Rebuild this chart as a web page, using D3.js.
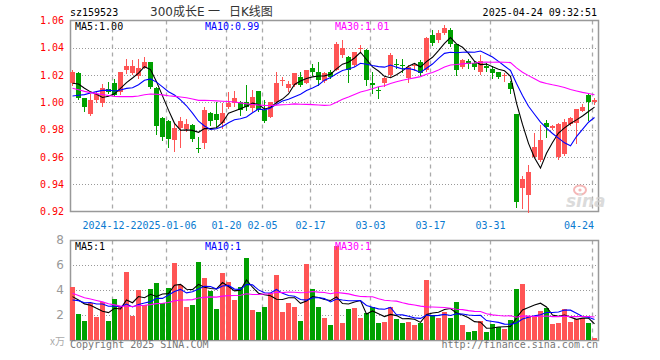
<!DOCTYPE html>
<html lang="zh">
<head>
<meta charset="utf-8">
<title>sz159523 300成长E 日K线图</title>
<style>
  body { margin: 0; background: #fff; }
  svg { display: block; }
  .mono { font-family: "DejaVu Sans Mono", "Liberation Mono", monospace; font-size: 10px; }
</style>
</head>
<body>
<div id="chart"></div>
<script src="https://d3js.org/d3.v7.min.js"></script>
<script>
// trading days on the chart
const dates = [
  "2024-12-12","2024-12-13","2024-12-16","2024-12-17","2024-12-18","2024-12-19","2024-12-20",
  "2024-12-23","2024-12-24","2024-12-25","2024-12-26","2024-12-27","2024-12-30","2024-12-31","2025-01-02","2025-01-03",
  "2025-01-06","2025-01-07","2025-01-08","2025-01-09","2025-01-10","2025-01-13","2025-01-14","2025-01-15","2025-01-16","2025-01-17",
  "2025-01-20","2025-01-21","2025-01-22","2025-01-23","2025-01-24","2025-01-27",
  "2025-02-05","2025-02-06","2025-02-07","2025-02-10","2025-02-11","2025-02-12","2025-02-13","2025-02-14",
  "2025-02-17","2025-02-18","2025-02-19","2025-02-20","2025-02-21","2025-02-24","2025-02-25","2025-02-26","2025-02-27","2025-02-28",
  "2025-03-03","2025-03-04","2025-03-05","2025-03-06","2025-03-07","2025-03-10","2025-03-11","2025-03-12","2025-03-13","2025-03-14",
  "2025-03-17","2025-03-18","2025-03-19","2025-03-20","2025-03-21","2025-03-24","2025-03-25","2025-03-26","2025-03-27","2025-03-28",
  "2025-03-31","2025-04-01","2025-04-02","2025-04-03","2025-04-07","2025-04-08","2025-04-09","2025-04-10","2025-04-11",
  "2025-04-14","2025-04-15","2025-04-16","2025-04-17","2025-04-18","2025-04-21","2025-04-22","2025-04-23","2025-04-24"
];

const open = [
  1.0140, 1.0217, 1.0030, 0.9914, 1.0017, 0.9997, 1.0096,
  1.0144, 1.0078, 1.0237, 1.0213, 1.0193, 1.0250, 1.0294, 1.0103, 0.9883,
  0.9863, 0.9724, 0.9810, 0.9802, 0.9834, 0.9665, 0.9704, 0.9920, 0.9914, 0.9846,
  0.9964, 0.9997, 1.0005, 1.0002, 0.9956, 1.0083,
  0.9944, 0.9895, 1.0002, 1.0162, 1.0103, 1.0127, 1.0188, 1.0144,
  1.0254, 1.0225, 1.0160, 1.0225, 1.0240, 1.0350, 1.0335, 1.0274, 1.0394, 1.0384,
  1.0140, 1.0092, 1.0140, 1.0200, 1.0278, 1.0276, 1.0176, 1.0272, 1.0298, 1.0237,
  1.0493, 1.0457, 1.0506, 1.0530, 1.0428, 1.0259, 1.0304, 1.0286, 1.0225, 1.0270,
  1.0245, 1.0222, 1.0198, 1.0142, 0.9915, 0.9370, 0.9321, 0.9602, 0.9577,
  0.9851, 0.9809, 0.9598, 0.9621, 0.9841, 0.9850, 0.9939, 1.0054, 1.0002
];
const high = [
  1.0237, 1.0220, 1.0030, 1.0060, 1.0078, 1.0134, 1.0147,
  1.0171, 1.0222, 1.0315, 1.0310, 1.0318, 1.0335, 1.0294, 1.0115, 0.9895,
  0.9870, 0.9846, 0.9895, 0.9875, 0.9840, 0.9748, 0.9964, 0.9930, 1.0000, 0.9993,
  1.0078, 1.0083, 1.0010, 1.0130, 1.0090, 1.0083,
  1.0017, 1.0005, 1.0222, 1.0188, 1.0155, 1.0213, 1.0225, 1.0237,
  1.0280, 1.0295, 1.0225, 1.0237, 1.0440, 1.0460, 1.0340, 1.0372, 1.0420, 1.0390,
  1.0220, 1.0115, 1.0188, 1.0360, 1.0320, 1.0320, 1.0275, 1.0285, 1.0310, 1.0480,
  1.0530, 1.0530, 1.0567, 1.0545, 1.0430, 1.0320, 1.0320, 1.0300, 1.0350, 1.0285,
  1.0265, 1.0225, 1.0215, 1.0160, 0.9915, 0.9460, 0.9541, 0.9773, 0.9834,
  0.9870, 0.9833, 0.9846, 0.9880, 0.9890, 0.9950, 0.9985, 1.0066, 1.0030
];
const low = [
  1.0130, 1.0022, 0.9939, 0.9907, 1.0005, 0.9973, 1.0066,
  1.0054, 1.0061, 1.0213, 1.0205, 1.0180, 1.0250, 1.0103, 0.9766, 0.9724,
  0.9670, 0.9643, 0.9675, 0.9790, 0.9720, 0.9638, 0.9663, 0.9834, 0.9817, 0.9814,
  0.9960, 0.9973, 0.9905, 0.9944, 0.9939, 0.9939,
  0.9853, 0.9890, 0.9985, 1.0127, 1.0080, 1.0117, 1.0120, 1.0140,
  1.0200, 1.0127, 1.0152, 1.0176, 1.0235, 1.0330, 1.0150, 1.0270, 1.0380, 1.0127,
  1.0066, 1.0030, 1.0120, 1.0190, 1.0250, 1.0225, 1.0150, 1.0240, 1.0200, 1.0230,
  1.0420, 1.0445, 1.0500, 1.0415, 1.0200, 1.0250, 1.0255, 1.0245, 1.0210, 1.0230,
  1.0180, 1.0180, 1.0160, 1.0071, 0.9235, 0.9223, 0.9198, 0.9602, 0.9572,
  0.9748, 0.9802, 0.9585, 0.9612, 0.9835, 0.9700, 0.9935, 0.9870, 0.9990
];
const close = [
  1.0225, 1.0030, 0.9968, 1.0017, 1.0059, 1.0103, 1.0078,
  1.0054, 1.0222, 1.0269, 1.0269, 1.0254, 1.0294, 1.0115, 0.9827, 0.9748,
  0.9731, 0.9810, 0.9863, 0.9839, 0.9731, 0.9660, 0.9944, 0.9863, 0.9871, 0.9924,
  0.9997, 1.0029, 0.9944, 0.9966, 1.0037, 0.9944,
  0.9865, 1.0002, 1.0144, 1.0166, 1.0132, 1.0213, 1.0127, 1.0237,
  1.0225, 1.0164, 1.0218, 1.0188, 1.0430, 1.0400, 1.0237, 1.0372, 1.0398, 1.0164,
  1.0127, 1.0088, 1.0176, 1.0347, 1.0272, 1.0270, 1.0262, 1.0276, 1.0213, 1.0470,
  1.0432, 1.0506, 1.0542, 1.0425, 1.0237, 1.0308, 1.0280, 1.0257, 1.0302, 1.0255,
  1.0215, 1.0186, 1.0200, 1.0100, 0.9272, 0.9435, 0.9490, 0.9670, 0.9724,
  0.9817, 0.9826, 0.9840, 0.9857, 0.9885, 0.9950, 0.9968, 1.0005, 1.0017
];
// volume, in units of 10k
const volume = [
  4.24, 2.08, 1.52, 2.99, 1.84, 3.07, 1.52,
  3.28, 2.72, 5.44, 1.95, 4.00, 2.80, 4.08, 4.59, 2.93,
  4.16, 6.16, 4.40, 2.64, 2.80, 6.27, 4.96, 3.92, 2.48, 5.36,
  4.67, 3.23, 4.21, 6.59, 2.40, 2.27,
  2.64, 3.79, 5.23, 2.27, 2.99, 2.64, 1.55, 6.11,
  4.08, 2.64, 1.79, 1.20, 7.55, 1.39, 2.48, 2.59, 1.76, 2.16,
  2.64, 1.36, 1.44, 2.64, 1.68, 1.36, 1.44, 1.20, 1.36, 4.80,
  2.00, 1.76, 2.27, 1.76, 3.04, 1.20, 0.64, 0.72, 1.52, 0.64,
  1.28, 1.01, 0.88, 1.60, 4.08, 4.48, 1.92, 1.92, 2.32,
  2.56, 1.28, 1.36, 2.48, 1.47, 1.68, 1.76, 1.36, 0.16
];
// sessions before the window (estimated), only used to seed the moving averages
const earlierClose = [
  1.035, 1.032, 1.030, 1.028, 1.030, 1.027, 1.026, 1.028, 1.027, 1.027,
  1.010, 1.002, 0.995, 0.990, 0.988, 0.992, 0.996, 1.000, 0.998, 1.001,
  0.998, 0.992, 0.990, 0.996, 1.001, 1.006, 1.012, 1.015, 1.0145
];
const earlierVolume = [
  7.5, 6.8, 6.0, 5.5, 6.5, 5.8, 6.2, 5.6, 5.9,
  2.4, 2.0, 1.8, 2.6, 2.2, 2.0, 2.5, 2.1, 2.3, 2.4, 2.14,
  2.6, 3.2, 2.8, 3.0, 3.05, 3.4, 3.1, 3.5, 3.11
];

const priceTicks = [1.06, 1.04, 1.02, 1.00, 0.98, 0.96, 0.94, 0.92];
const volumeTicks = [2, 4, 6, 8];
const tickDates = ["2024-12-23","2025-01-06","2025-01-20","2025-02-05","2025-02-17","2025-03-03","2025-03-17","2025-03-31","2025-04-24"];
const tickLabels = ["2024-12-23","2025-01-06","01-20","02-05","02-17","03-03","03-17","03-31","04-24"];
const maPeriods = [5, 10, 30];
const maColors = ["#000000", "#0000ff", "#ff00ff"];

const W = 660, H = 360;
const left = 70, right = 597;
const RED = "#ff5555", GREEN = "#00a000", GRID = "#aaaaaa";

const svg = d3.select("#chart").append("svg").attr("width", W).attr("height", H);

const x = d3.scaleBand().domain(d3.range(dates.length)).range([left, right])
  .paddingInner(1 / 6).paddingOuter(0);
const y = d3.scaleLinear().domain([0.92, 1.06]).range([211.5, 20.5]);
const yv = d3.scaleLinear().domain([0, 8]).range([340, 240]);
const cx = i => x(i) + x.bandwidth() / 2;

function movingAvg(values, earlier, n) {
  const all = earlier.concat(values);
  const off = earlier.length;
  return values.map((_, i) => d3.mean(all.slice(i + off - n + 1, i + off + 1)));
}
const colorOf = i => close[i] >= open[i] ? RED : GREEN;
const px = v => Math.round(v) + 0.5;

// ---- grids and frames
function panel(yScale, hTicks, top, bottom) {
  const g = svg.append("g");
  g.selectAll("line.h").data(hTicks).join("line")
    .attr("x1", left).attr("x2", right + 1)
    .attr("y1", d => px(yScale(d))).attr("y2", d => px(yScale(d)))
    .attr("stroke", "#999").attr("stroke-dasharray", "1,2");
  g.selectAll("line.v").data(tickDates).join("line")
    .attr("x1", d => x(dates.indexOf(d)) + 0.5).attr("x2", d => x(dates.indexOf(d)) + 0.5)
    .attr("y1", top).attr("y2", bottom)
    .attr("stroke", GRID).attr("stroke-width", 1.3).attr("stroke-dasharray", "4,4");
  g.append("rect").attr("x", left + 0.5).attr("y", top).attr("width", right - left + 1)
    .attr("height", bottom - top).attr("fill", "none").attr("stroke", "#999").attr("stroke-width", 1.5);
}
panel(y, [1.04, 1.02, 1.00, 0.98, 0.96, 0.94], 20.5, 211.5);
panel(yv, [2, 4, 6], 240.5, 340.5);

// ---- watermark
const wm = svg.append("g").attr("opacity", 0.75);
wm.append("ellipse").attr("cx", 580).attr("cy", 190).attr("rx", 6).attr("ry", 4.5)
  .attr("fill", "none").attr("stroke", "#f2a0a0").attr("stroke-width", 2);
wm.append("circle").attr("cx", 580).attr("cy", 190).attr("r", 1.6).attr("fill", "#f2a0a0");
wm.append("text").attr("x", 566).attr("y", 207)
  .style("font", "italic bold 17px 'DejaVu Sans', sans-serif").attr("fill", "#cfcfcf").text("sina");

// ---- candles
const idx = d3.range(dates.length);
const cg = svg.append("g");
cg.selectAll("line").data(idx).join("line")
  .attr("x1", i => cx(i)).attr("x2", i => cx(i))
  .attr("y1", i => Math.round(y(high[i]))).attr("y2", i => Math.round(y(low[i])) + 1)
  .attr("stroke", colorOf);
cg.selectAll("rect").data(idx).join("rect")
  .attr("x", i => x(i)).attr("width", x.bandwidth())
  .attr("y", i => Math.round(y(Math.max(open[i], close[i]))))
  .attr("height", i => Math.max(1, Math.round(y(Math.min(open[i], close[i]))) - Math.round(y(Math.max(open[i], close[i])))))
  .attr("fill", colorOf);

// ---- volume bars
svg.append("g").selectAll("rect").data(idx).join("rect")
  .attr("x", i => x(i)).attr("width", x.bandwidth())
  .attr("y", i => Math.round(yv(volume[i])))
  .attr("height", i => 340 - Math.round(yv(volume[i])))
  .attr("fill", colorOf);

// ---- moving averages
const priceMA = maPeriods.map(n => movingAvg(close, earlierClose, n));
const volMA = maPeriods.map(n => movingAvg(volume, earlierVolume, n));
maPeriods.forEach((n, k) => {
  svg.append("path").datum(priceMA[k])
    .attr("d", d3.line().x((d, i) => cx(i)).y(d => y(d)))
    .attr("fill", "none").attr("stroke", maColors[k]).attr("stroke-width", 1.1);
  svg.append("path").datum(volMA[k])
    .attr("d", d3.line().x((d, i) => cx(i)).y(d => yv(d)))
    .attr("fill", "none").attr("stroke", maColors[k]).attr("stroke-width", 1.1);
});

// ---- axes
const ya = svg.append("g").attr("transform", `translate(${left},0)`)
  .call(d3.axisLeft(y).tickValues(priceTicks).tickSize(0).tickPadding(6).tickFormat(d3.format(".2f")));
ya.select(".domain").remove();
ya.selectAll("text").attr("fill", "#ff0000")
  .style("font", "10px 'DejaVu Sans Mono', monospace");

const va = svg.append("g").attr("transform", `translate(${left},0)`)
  .call(d3.axisLeft(yv).tickValues(volumeTicks).tickSize(0).tickPadding(6));
va.select(".domain").remove();
va.selectAll("text").attr("fill", "#999")
  .style("font", "12px 'DejaVu Sans', sans-serif");
svg.append("text").attr("x", 65).attr("y", 345).attr("text-anchor", "end")
  .attr("fill", "#aaa").style("font", "10px 'Noto Sans CJK SC', sans-serif").text("x万");

// date labels, each on a white backing so neighbours overwrite cleanly
const xl = svg.append("g").attr("class", "mono");
tickDates.forEach((d, k) => {
  const w = tickLabels[k].length * 6.02;
  let cxl = x(dates.indexOf(d)) + 0.5;
  if (cxl + w / 2 > right - 3) cxl = right - 3 - w / 2;
  xl.append("rect").attr("x", cxl - w / 2).attr("y", 220).attr("width", w).attr("height", 11).attr("fill", "#fff");
  xl.append("text").attr("x", cxl).attr("y", 229).attr("text-anchor", "middle")
    .attr("fill", "#0a7ad0").text(tickLabels[k]);
});

// ---- header texts
svg.append("text").attr("class", "mono").attr("x", 70).attr("y", 16).text("sz159523");
svg.append("text").attr("class", "mono").attr("x", right).attr("y", 16).attr("text-anchor", "end")
  .text("2025-04-24 09:32:51");
const title = svg.append("text").attr("y", 16).attr("fill", "#333")
  .style("font", "12px 'DejaVu Sans', 'Noto Sans CJK SC', sans-serif");
title.append("tspan").attr("x", 150).text("300成长E");
title.append("tspan").attr("x", 208).text("一");
title.append("tspan").attr("x", 229).text("日K线图");

const labelX = [75, 205, 335];
const last = dates.length - 1;
maPeriods.forEach((n, k) => {
  svg.append("text").attr("class", "mono").attr("x", labelX[k]).attr("y", 29.5)
    .attr("fill", maColors[k]).text(`MA${n}:${priceMA[k][last].toFixed(2)}`);
  svg.append("text").attr("class", "mono").attr("x", labelX[k]).attr("y", 249.5)
    .attr("fill", maColors[k]).text(`MA${n}:${Math.floor(volMA[k][last])}`);
});

svg.append("text").attr("class", "mono").attr("x", 70).attr("y", 348).attr("fill", "#777")
  .text("Copyright 2025 SINA.COM");
svg.append("text").attr("class", "mono").attr("x", right + 1).attr("y", 348).attr("text-anchor", "end")
  .attr("fill", "#777").text("http://finance.sina.com.cn");
</script>
</body>
</html>
